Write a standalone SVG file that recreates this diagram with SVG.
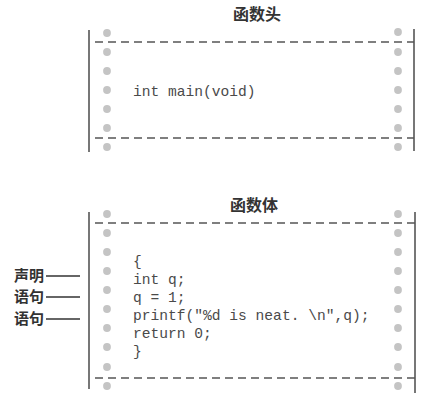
<svg xmlns="http://www.w3.org/2000/svg" width="436" height="408" viewBox="0 0 436 408">
<style>
.frame{stroke:#555;stroke-width:1.6;fill:none}
.dash{stroke:#555;stroke-width:1.4;stroke-dasharray:8 5;fill:none}
.dot{fill:#c4c4c4}
.title{font-family:"Noto Sans CJK SC","Noto Sans CJK JP",sans-serif;font-weight:bold;font-size:16px;fill:#333}
.code{font-family:"Liberation Mono","DejaVu Sans Mono",monospace;font-size:14.6px;fill:#4a4a4a}
.lbl{font-family:"Noto Sans CJK SC",sans-serif;font-weight:bold;font-size:15px;fill:#333}
.lead{stroke:#333;stroke-width:1.3}
</style>
<rect width="436" height="408" fill="#fff"/>
<g id="header">
<text class="title" x="233" y="20">函数头</text>
<line class="frame" x1="89" y1="30" x2="89" y2="152"/>
<line class="frame" x1="414" y1="29" x2="414" y2="151"/>
<line class="dash" x1="95" y1="42" x2="414" y2="42"/>
<line class="dash" x1="95" y1="138" x2="414" y2="138"/>
<g class="dot">
<circle cx="107" cy="33" r="3.9"/><circle cx="107" cy="52" r="3.9"/><circle cx="107" cy="71" r="3.9"/><circle cx="107" cy="90" r="3.9"/><circle cx="107" cy="109" r="3.9"/><circle cx="107" cy="128" r="3.9"/><circle cx="107" cy="147" r="3.9"/>
<circle cx="398" cy="32" r="3.9"/><circle cx="398" cy="52" r="3.9"/><circle cx="398" cy="71" r="3.9"/><circle cx="398" cy="90" r="3.9"/><circle cx="398" cy="109" r="3.9"/><circle cx="398" cy="128" r="3.9"/><circle cx="398" cy="147" r="3.9"/>
</g>
<text class="code" x="133" y="95.5">int main(void)</text>
</g>
<g id="body">
<text class="title" x="230" y="211">函数体</text>
<line class="frame" x1="89" y1="212" x2="89" y2="389"/>
<line class="frame" x1="415" y1="212" x2="415" y2="393"/>
<line class="dash" x1="95" y1="223" x2="415" y2="223"/>
<line class="dash" x1="95" y1="378" x2="415" y2="378"/>
<g class="dot">
<circle cx="107" cy="214" r="3.9"/><circle cx="107" cy="233" r="3.9"/><circle cx="107" cy="252" r="3.9"/><circle cx="107" cy="271" r="3.9"/><circle cx="107" cy="290" r="3.9"/><circle cx="107" cy="309" r="3.9"/><circle cx="107" cy="328" r="3.9"/><circle cx="107" cy="347" r="3.9"/><circle cx="107" cy="367" r="3.9"/><circle cx="107" cy="386" r="3.9"/>
<circle cx="398" cy="214" r="3.9"/><circle cx="398" cy="233" r="3.9"/><circle cx="398" cy="252" r="3.9"/><circle cx="398" cy="271" r="3.9"/><circle cx="398" cy="290" r="3.9"/><circle cx="398" cy="309" r="3.9"/><circle cx="398" cy="328" r="3.9"/><circle cx="398" cy="347" r="3.9"/><circle cx="398" cy="367" r="3.9"/><circle cx="398" cy="386" r="3.9"/>
</g>
<text class="code" x="133" y="266">{</text>
<text class="code" x="133" y="284">int q;</text>
<text class="code" x="133" y="302">q = 1;</text>
<text class="code" x="133" y="320">printf("%d is neat. \n",q);</text>
<text class="code" x="133" y="338">return 0;</text>
<text class="code" x="133" y="356">}</text>
</g>
<g id="labels">
<text class="lbl" x="14" y="281">声明</text>
<text class="lbl" x="14" y="302">语句</text>
<text class="lbl" x="14" y="324">语句</text>
</g>
<g id="connectors">
<line class="lead" x1="46" y1="276" x2="80" y2="276"/>
<line class="lead" x1="46" y1="297" x2="80" y2="297"/>
<line class="lead" x1="46" y1="319" x2="80" y2="319"/>
</g>
</svg>
